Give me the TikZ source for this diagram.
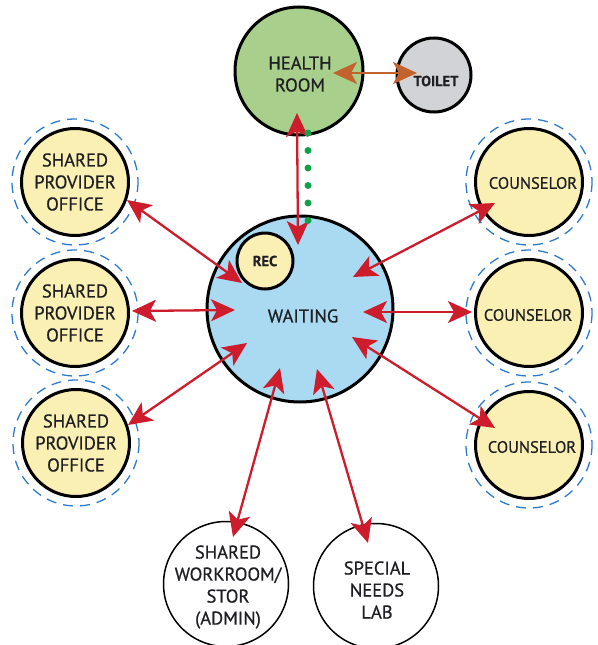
\documentclass[tikz,border=0pt]{standalone}
\usepackage{fontspec}
\setmainfont{PT Sans}[FakeBold=0.6]
\usetikzlibrary{arrows.meta}
\definecolor{healthgreen}{RGB}{168,208,140}
\definecolor{toiletgray}{RGB}{210,211,215}
\definecolor{waitblue}{RGB}{170,218,242}
\definecolor{officeyellow}{RGB}{250,240,180}
\definecolor{arrowred}{RGB}{205,28,44}
\definecolor{arrowbrown}{RGB}{194,98,45}
\definecolor{dotgreen}{RGB}{18,160,74}
\definecolor{ringblue}{RGB}{46,123,203}
\definecolor{inkgray}{RGB}{30,30,35}
\begin{document}
\begin{tikzpicture}[x=1pt,y=-1pt,
  >={Stealth[length=24pt,width=22pt,inset=6pt]},
  room/.style={circle,draw=black,line width=3pt,inner sep=0pt,align=center,
    text=inkgray,font=\fontsize{18.5}{22}\selectfont},
  office/.style={room,fill=officeyellow,minimum size=107pt},
  plain/.style={circle,draw=black,line width=1.5pt,fill=white,inner sep=0pt,
    align=center,text=inkgray,minimum size=125pt,font=\fontsize{18.5}{22}\selectfont},
  ring/.style={draw=ringblue,line width=1.3pt,dash pattern=on 10pt off 7pt},
  arr/.style={<->,draw=arrowred,line width=2.3pt},
  brarr/.style={<->,draw=arrowbrown,line width=2.3pt},
  dots/.style={draw=dotgreen,line width=7pt,line cap=round,dash pattern=on 0pt off 17.5pt},
  lbl/.style={align=center,text=inkgray,inner sep=0pt,font=\fontsize{18.5}{22}\selectfont},
  cfont/.style={font=\fontsize{16.5}{18}\selectfont},
  sfont/.style={font=\fontsize{14.5}{16}\selectfont\bfseries}
]
\useasboundingbox (0,0) rectangle (597,645);

% rings
\foreach \c in {(75,182),(75,313),(76,443),(529,182),(529,313),(529,445)}
  \draw[ring] \c circle[radius=63];

% rooms
\node[room,fill=healthgreen,minimum size=128pt] (health) at (299,71) {};
\node[lbl] (healthtxt) at (300,74) {HEALTH\\ROOM};
\node[room,fill=toiletgray,minimum size=74pt] (toilet) at (434,75) {};
\node[lbl,sfont] (toilettxt) at (436,81) {TOILET};
\node[room,fill=waitblue,minimum size=186pt] (waiting) at (300,309) {};
\node[lbl] (waitingtxt) at (303,316) {WAITING};
\node[room,fill=officeyellow,minimum size=56pt,sfont] (rec) at (265,261) {REC};

\node[office] (off1) at (75,182) {SHARED\\PROVIDER\\OFFICE};
\node[office] (off2) at (75,313) {SHARED\\PROVIDER\\OFFICE};
\node[office] (off3) at (76,443) {SHARED\\PROVIDER\\OFFICE};
\node[office] (c1) at (529,182) {};
\node[office] (c2) at (529,313) {};
\node[office] (c3) at (529,445) {};
\node[lbl,cfont] (c1txt) at (533,183) {COUNSELOR};
\node[lbl,cfont] (c2txt) at (528,315) {COUNSELOR};
\node[lbl,cfont] (c3txt) at (532,447) {COUNSELOR};

\node[plain] (work) at (226,584) {};
\node[lbl] (worktxt) at (228,587) {SHARED\\WORKROOM/\\STOR\\(ADMIN)};
\node[plain] (lab) at (376,586) {};
\node[lbl] (labtxt) at (377,590) {SPECIAL\\NEEDS\\LAB};

% tip coordinates
\coordinate (hT) at (297,113);
\coordinate (wH) at (298,245);
\coordinate (hR) at (333,73);
\coordinate (tL) at (417,73);
\coordinate (o1T) at (127,200);  \coordinate (w1) at (242,283);
\coordinate (o2T) at (132,311);  \coordinate (w2) at (235,310);
\coordinate (o3T) at (128,425);  \coordinate (w3) at (247,343);
\coordinate (c1T) at (495,203);  \coordinate (w4) at (353,277);
\coordinate (c2T) at (472,312);  \coordinate (w5) at (363,312);
\coordinate (c3T) at (495,428);  \coordinate (w6) at (352,337);
\coordinate (wkT) at (233,537);  \coordinate (w7) at (280,368);
\coordinate (lbT) at (368,543);  \coordinate (w8) at (317,369);
\coordinate (gd1) at (308,133);  \coordinate (gd2) at (308,222);

% connectors
\draw[brarr] (hR) -- (tL);
\draw[arr] (hT) -- (wH);
\draw[dots] (gd1) -- (gd2);
\draw[arr] (o1T) -- (w1);
\draw[arr] (o2T) -- (w2);
\draw[arr] (o3T) -- (w3);
\draw[arr] (c1T) -- (w4);
\draw[arr] (c2T) -- (w5);
\draw[arr] (c3T) -- (w6);
\draw[arr] (wkT) -- (w7);
\draw[arr] (lbT) -- (w8);
\end{tikzpicture}
\end{document}
